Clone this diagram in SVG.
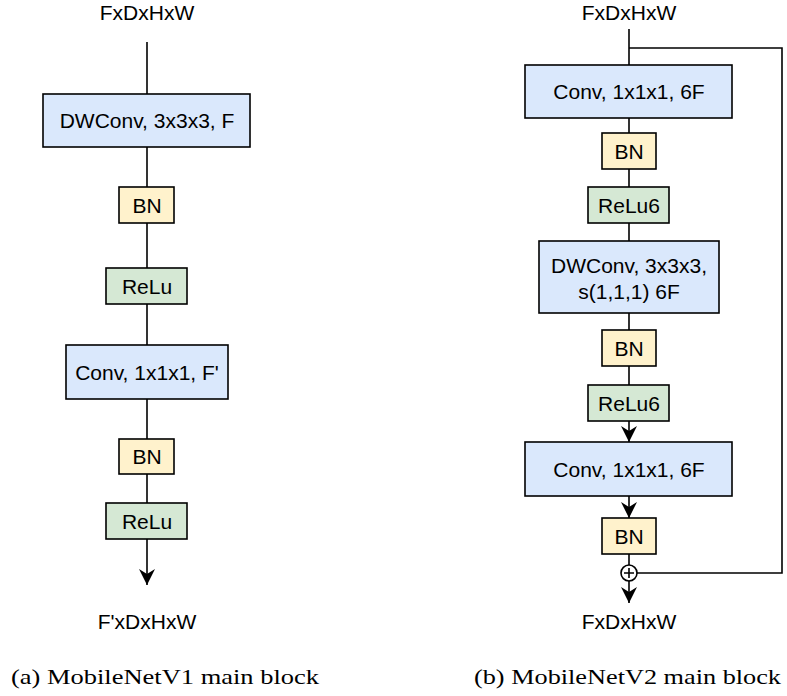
<svg xmlns="http://www.w3.org/2000/svg" width="787" height="696" viewBox="0 0 787 696">
  <defs>
    <style>
      .lbl { font-family: "Liberation Sans", Arial, sans-serif; font-size: 21px; fill: #000; text-anchor: middle; }
      .cap { font-family: "Liberation Serif", "Times New Roman", serif; font-size: 22px; fill: #000; }
      .conv { fill: #dae8fc; stroke: #000; stroke-width: 1.6; }
      .bn { fill: #fff2cc; stroke: #000; stroke-width: 1.6; }
      .relu { fill: #d5e8d4; stroke: #000; stroke-width: 1.6; }
      .edge { fill: none; stroke: #000; stroke-width: 1.6; }
      .arr { marker-end: url(#head); }
    </style>
    <marker id="head" markerUnits="userSpaceOnUse" markerWidth="17" markerHeight="16" refX="16" refY="8" orient="auto">
      <path d="M16,8 L0,0 L5,8 L0,16 Z" fill="#000"/>
    </marker>
  </defs>
  <rect width="787" height="696" fill="#fff"/>

  <!-- connectors -->
  <g id="connectors">
    <!-- MobileNetV1 column -->
    <path class="edge" d="M147,42 V94"/>
    <path class="edge" d="M147,147 V187"/>
    <path class="edge" d="M147,223 V268"/>
    <path class="edge" d="M147,304 V345"/>
    <path class="edge" d="M147,399 V439"/>
    <path class="edge" d="M147,474 V503"/>
    <path class="edge arr" d="M147,539 V585"/>
    <!-- MobileNetV2 column -->
    <path class="edge" d="M629,29 V65"/>
    <path class="edge" d="M629,48 H782 V573 H637"/>
    <path class="edge" d="M629,118 V133"/>
    <path class="edge" d="M629,169 V187"/>
    <path class="edge" d="M629,223 V241"/>
    <path class="edge" d="M629,313 V330"/>
    <path class="edge" d="M629,366 V385"/>
    <path class="edge arr" d="M629,421 V442"/>
    <path class="edge arr" d="M629,496 V518"/>
    <path class="edge" d="M629,554 V565"/>
    <path class="edge arr" d="M629,581 V603"/>
  </g>

  <!-- MobileNetV1 block -->
  <g id="v1-in"><text class="lbl" x="147" y="20">FxDxHxW</text></g>
  <g id="v1-dwconv">
    <rect class="conv" x="43" y="94" width="207" height="53"/>
    <text class="lbl" x="147" y="128">DWConv, 3x3x3, F</text>
  </g>
  <g id="v1-bn1">
    <rect class="bn" x="119" y="187" width="55" height="36"/>
    <text class="lbl" x="147" y="213">BN</text>
  </g>
  <g id="v1-relu1">
    <rect class="relu" x="106" y="268" width="81" height="36"/>
    <text class="lbl" x="147" y="294">ReLu</text>
  </g>
  <g id="v1-conv">
    <rect class="conv" x="66" y="345" width="162" height="54"/>
    <text class="lbl" x="147" y="379.5">Conv, 1x1x1, F'</text>
  </g>
  <g id="v1-bn2">
    <rect class="bn" x="119" y="439" width="55" height="35"/>
    <text class="lbl" x="147" y="464">BN</text>
  </g>
  <g id="v1-relu2">
    <rect class="relu" x="106" y="503" width="81" height="36"/>
    <text class="lbl" x="147" y="529">ReLu</text>
  </g>
  <g id="v1-out"><text class="lbl" x="147" y="629">F'xDxHxW</text></g>

  <!-- MobileNetV2 block -->
  <g id="v2-in"><text class="lbl" x="629" y="20">FxDxHxW</text></g>
  <g id="v2-conv1">
    <rect class="conv" x="525" y="65" width="207" height="53"/>
    <text class="lbl" x="629" y="99">Conv, 1x1x1, 6F</text>
  </g>
  <g id="v2-bn1">
    <rect class="bn" x="602" y="133" width="54" height="36"/>
    <text class="lbl" x="629" y="159">BN</text>
  </g>
  <g id="v2-relu1">
    <rect class="relu" x="588" y="187" width="81" height="36"/>
    <text class="lbl" x="629" y="213">ReLu6</text>
  </g>
  <g id="v2-dwconv">
    <rect class="conv" x="539" y="241" width="180" height="72"/>
    <text class="lbl" x="629" y="272.5">DWConv, 3x3x3,</text>
    <text class="lbl" x="629" y="298.5">s(1,1,1) 6F</text>
  </g>
  <g id="v2-bn2">
    <rect class="bn" x="602" y="330" width="54" height="36"/>
    <text class="lbl" x="629" y="356">BN</text>
  </g>
  <g id="v2-relu2">
    <rect class="relu" x="588" y="385" width="81" height="36"/>
    <text class="lbl" x="629" y="411">ReLu6</text>
  </g>
  <g id="v2-conv2">
    <rect class="conv" x="525" y="442" width="207" height="54"/>
    <text class="lbl" x="629" y="476.5">Conv, 1x1x1, 6F</text>
  </g>
  <g id="v2-bn3">
    <rect class="bn" x="602" y="518" width="54" height="36"/>
    <text class="lbl" x="629" y="544">BN</text>
  </g>
  <g id="v2-add">
    <circle cx="629" cy="573" r="8" fill="#fff" stroke="#000" stroke-width="1.6"/>
    <path d="M624,573 H634 M629,568 V578" stroke="#000" stroke-width="1.6" fill="none"/>
  </g>
  <g id="v2-out"><text class="lbl" x="629" y="629">FxDxHxW</text></g>

  <!-- sub-figure captions -->
  <text class="cap" x="11" y="684" textLength="308" lengthAdjust="spacingAndGlyphs">(a) MobileNetV1 main block</text>
  <text class="cap" x="474" y="684" textLength="307" lengthAdjust="spacingAndGlyphs">(b) MobileNetV2 main block</text>
</svg>
